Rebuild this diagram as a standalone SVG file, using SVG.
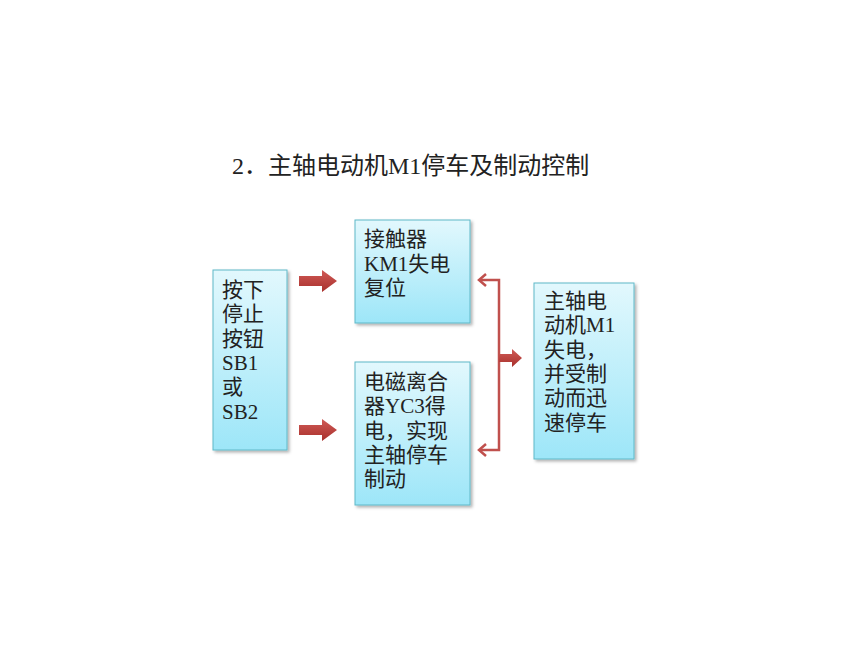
<svg xmlns="http://www.w3.org/2000/svg" width="860" height="645" viewBox="0 0 860 645">
<defs>
<linearGradient id="g" x1="0" y1="0" x2="0" y2="1">
<stop offset="0" stop-color="#e2f8fd"/>
<stop offset="1" stop-color="#9de6f8"/>
</linearGradient>
<linearGradient id="r" x1="0" y1="0" x2="0" y2="1">
<stop offset="0" stop-color="#d05a56"/>
<stop offset="1" stop-color="#a8302c"/>
</linearGradient>
<filter id="sh" x="-10%" y="-10%" width="130%" height="130%">
<feDropShadow dx="2" dy="2" stdDeviation="1.5" flood-color="#000" flood-opacity="0.3"/>
</filter>
</defs>
<style>
.box{fill:url(#g);stroke:#5fb8c8;stroke-width:1;filter:url(#sh)}
.t{font-family:"Liberation Serif","Noto Sans CJK SC",serif;font-size:21px;fill:#222}
.title{font-family:"Liberation Serif","Noto Sans CJK SC",serif;font-size:24px;fill:#222}
.blk{fill:url(#r)}
.ln{fill:none;stroke:#c0504d;stroke-width:2.5}
</style>
<rect width="860" height="645" fill="#fff"/>
<text class="title" x="232" y="174">2．主轴电动机M1停车及制动控制</text>
<g id="n1">
<rect class="box" x="213" y="270" width="74" height="180"/>
<text class="t"><tspan x="222" y="297">按下</tspan><tspan x="222" y="321">停止</tspan><tspan x="222" y="346">按钮</tspan><tspan x="222" y="370">SB1</tspan><tspan x="222" y="394">或</tspan><tspan x="222" y="419">SB2</tspan></text>
</g>
<g id="n2">
<rect class="box" x="355" y="220" width="115" height="103"/>
<text class="t"><tspan x="364" y="246">接触器</tspan><tspan x="364" y="271">KM1失电</tspan><tspan x="364" y="295">复位</tspan></text>
</g>
<g id="n3">
<rect class="box" x="355" y="362" width="115" height="143"/>
<text class="t"><tspan x="364" y="389">电磁离合</tspan><tspan x="364" y="413">器YC3得</tspan><tspan x="364" y="438">电，实现</tspan><tspan x="364" y="462">主轴停车</tspan><tspan x="364" y="486">制动</tspan></text>
</g>
<g id="n4">
<rect class="box" x="534" y="283" width="100" height="176"/>
<text class="t"><tspan x="544" y="308">主轴电</tspan><tspan x="544" y="332">动机M1</tspan><tspan x="544" y="357">失电，</tspan><tspan x="544" y="381">并受制</tspan><tspan x="544" y="405">动而迅</tspan><tspan x="544" y="430">速停车</tspan></text>
</g>
<g id="connectors">
<path class="blk" d="M299,276 H322 V270 L337,281 L322,292 V286 H299 Z"/>
<path class="blk" d="M299,425 H322 V419 L337,430 L322,441 V435 H299 Z"/>
<path class="ln" d="M480,280 H499 V450 H480"/>
<path d="M486,274 L479,280 L486,286" fill="none" stroke="#c0504d" stroke-width="2.5"/>
<path d="M486,444 L479,450 L486,456" fill="none" stroke="#c0504d" stroke-width="2.5"/>
<path class="blk" d="M499,354 H512 V349 L522,358 L512,367 V362 H499 Z"/>
</g>
</svg>
